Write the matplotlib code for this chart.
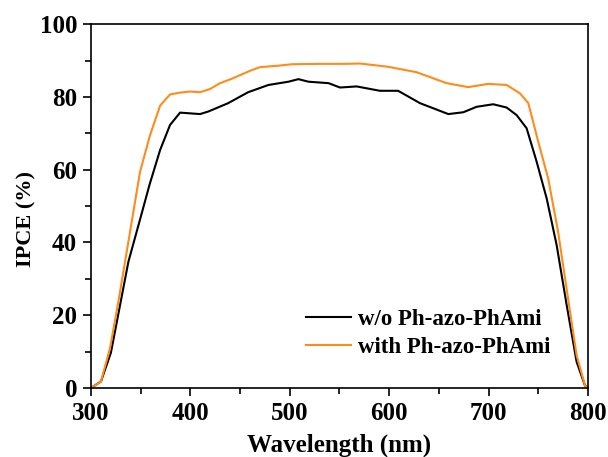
import matplotlib
matplotlib.use("Agg")
import matplotlib.pyplot as plt

# IPCE spectra
wl_ref = [300, 310, 320, 337.6, 349, 359, 369.5, 379.5, 389.6, 409.7, 418, 438, 458,
          478.5, 498.7, 508.7, 518.8, 539, 550.5, 567.3, 590.7, 609, 631, 659.5,
          674.6, 688, 704.7, 718.2, 728.3, 738.3, 748.4, 758.5, 768.5, 778.6,
          788.6, 797, 800]
ipce_ref = [0, 1.8, 9.7, 34.7, 46, 56, 65.4, 72.3, 75.7, 75.3, 76, 78.3, 81.3,
            83.3, 84.2, 84.9, 84.2, 83.8, 82.6, 82.9, 81.7, 81.7, 78.3, 75.3,
            75.8, 77.3, 78, 77.1, 75, 71.4, 62.2, 52.1, 39.3, 22.8,
            7.2, 0.7, 0]

wl_mod = [300, 310, 319, 327.5, 337.6, 349.3, 359.4, 369.5, 379.5, 389.6, 399.7,
          409.7, 419.8, 429.9, 441.6, 460, 470, 488.6, 502, 528.9, 555.7, 570.6,
          599, 627.7, 657.8, 679.6, 699.7, 718.2, 731.6, 740, 750, 760, 770,
          780, 788.6, 797, 800]
ipce_mod = [0, 1.8, 10.8, 23.7, 40.2, 59.4, 69.5, 77.6, 80.7, 81.2, 81.5,
            81.3, 82.2, 83.8, 85, 87.2, 88.2, 88.6, 89, 89.1, 89.1, 89.2,
            88.3, 86.8, 83.8, 82.7, 83.6, 83.3, 81, 78.3, 67.7, 57.6, 42.9,
            24.6, 9, 0.7, 0]

labels = ["w/o Ph-azo-PhAmi", "with Ph-azo-PhAmi"]

plt.rcParams['font.family'] = ['Liberation Serif', 'DejaVu Serif']
plt.rcParams['font.weight'] = 'bold'

fig = plt.figure(figsize=(6.08, 4.57), dpi=100)
ax = fig.add_axes([0.1497, 0.151, 0.8173, 0.796])

ax.plot(wl_ref, ipce_ref, color='black', lw=1.5, label=labels[0])
ax.plot(wl_mod, ipce_mod, color='#ff8c1a', lw=1.5, label=labels[1])

ax.set_xlim(300, 800)
ax.set_ylim(0, 100)
ax.set_xticks([300, 400, 500, 600, 700, 800])
ax.set_xticks([350, 450, 550, 650, 750], minor=True)
ax.set_yticks([0, 20, 40, 60, 80, 100])
ax.set_yticks([10, 30, 50, 70, 90], minor=True)
ax.tick_params(which='major', direction='out', length=6, width=1.2, labelsize=18, pad=4)
ax.tick_params(which='minor', direction='out', length=4, width=1.2)
for lab in ax.get_xticklabels() + ax.get_yticklabels():
    lab.set_fontweight('bold')
for sp in ax.spines.values():
    sp.set_linewidth(1.2)

ax.set_xlabel('Wavelength (nm)', fontsize=18, fontweight='bold')
ax.set_ylabel('IPCE (%)', fontsize=16, fontweight='bold')
ax.xaxis.set_label_coords(0.5, -0.125)
ax.yaxis.set_label_coords(-0.11, 0.464)

# legend sits low, right of centre, no frame
ax.legend(loc='lower left', bbox_to_anchor=(0.392, 0.025), frameon=False,
          prop={'size': 16.5, 'weight': 'bold'}, handlelength=1.96,
          handletextpad=0.3, labelspacing=0.33)

fig.savefig('out.png', dpi=100)
